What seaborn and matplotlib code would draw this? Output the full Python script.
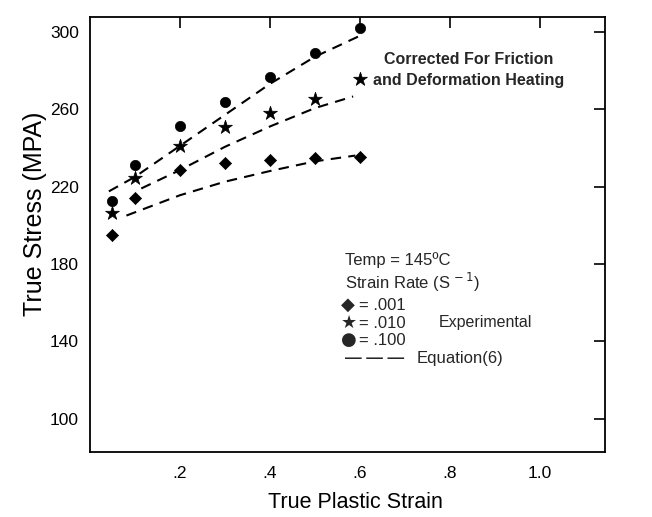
import matplotlib
matplotlib.use("Agg")
import matplotlib.pyplot as plt
import seaborn as sns
import pandas as pd

# ---- data ----
strain = [0.05, 0.1, 0.2, 0.3, 0.4, 0.5, 0.6]
stress_001 = [195.0, 214.0, 228.5, 232.0, 233.5, 234.5, 235.5]
stress_010 = [206.5, 224.5, 241.0, 250.5, 258.0, 265.0, 275.5]
stress_100 = [212.5, 231.0, 251.5, 263.5, 276.5, 289.0, 302.0]

eq_strain_001 = [0.081, 0.2, 0.3, 0.4, 0.5, 0.59]
eq_stress_001 = [205.0, 215.5, 222.5, 228.0, 233.0, 236.0]
eq_strain_010 = [0.114, 0.2, 0.3, 0.4, 0.5, 0.585]
eq_stress_010 = [219.0, 228.5, 240.5, 251.0, 260.5, 266.5]
eq_strain_100 = [0.042, 0.1, 0.2, 0.3, 0.4, 0.5, 0.597]
eq_stress_100 = [217.5, 225.0, 241.0, 257.0, 273.0, 287.0, 297.5]

x_ticks = [0.2, 0.4, 0.6, 0.8, 1.0]
x_tick_labels = [".2", ".4", ".6", ".8", "1.0"]
y_ticks = [100, 140, 180, 220, 260, 300]

sns.set_theme(style="white")
plt.rcParams["font.family"] = ["Liberation Sans", "DejaVu Sans"]

fig = plt.figure(figsize=(6.52, 5.17), dpi=100)
ax = fig.add_axes([0.138, 0.126, 0.790, 0.841])

dash = (0, (5, 3.5))
for xs, ys in [(eq_strain_001, eq_stress_001), (eq_strain_010, eq_stress_010),
               (eq_strain_100, eq_stress_100)]:
    sns.lineplot(x=xs, y=ys, ax=ax, color="black", linewidth=1.5,
                 linestyle=dash, estimator=None, sort=False)

sns.scatterplot(x=strain, y=stress_001, ax=ax, marker="D", s=38,
                color="black", edgecolor="black", linewidth=0.5, zorder=3)
sns.scatterplot(x=strain, y=stress_010, ax=ax, marker="*", s=110,
                color="black", edgecolor="black", linewidth=0.5, zorder=3)
sns.scatterplot(x=strain, y=stress_100, ax=ax, marker="o", s=55,
                color="black", edgecolor="black", linewidth=0.5, zorder=3)

ax.set_xlim(0.0, 1.145)
ax.set_ylim(83, 307.5)
ax.set_xticks(x_ticks)
ax.set_xticklabels(x_tick_labels)
ax.set_yticks(y_ticks)
ax.tick_params(direction="in", top=True, right=True, length=8, width=1.2,
               colors="black", labelsize=12.5, pad=8)
ax.tick_params(axis="x", pad=10)
for sp in ax.spines.values():
    sp.set_visible(True)
    sp.set_color("black")
    sp.set_linewidth(1.3)

ax.set_xlabel("True Plastic Strain", fontsize=15.5, labelpad=8, color="black")
ax.xaxis.label.set_x(0.515)
ax.set_ylabel("True Stress (MPA)", fontsize=18, labelpad=2, color="black")
ax.yaxis.label.set_y(0.548)

ax.text(0.841, 285.5, "Corrected For Friction", ha="center", va="center",
        fontsize=11.5, fontweight="bold")
ax.text(0.841, 274.5, "and Deformation Heating", ha="center", va="center",
        fontsize=11.5, fontweight="bold")

fs = 12
ax.text(0.566, 182, "Temp = 145ºC", ha="left", va="center", fontsize=fs)
ax.text(0.566, 170.6, "Strain Rate (S$^{\\,-1}$)", ha="left", va="center", fontsize=fs)
for yy, g in [(158.7, "◆"), (149.4, "★"), (140.5, "●")]:
    ax.text(0.558, yy, g, ha="left", va="center", fontsize=13,
            family=["DejaVu Sans"])
ax.text(0.598, 158.7, "= .001", ha="left", va="center", fontsize=fs)
ax.text(0.598, 149.4, "= .010", ha="left", va="center", fontsize=fs)
ax.text(0.598, 140.5, "= .100", ha="left", va="center", fontsize=fs)
ax.text(0.776, 150.0, "Experimental", ha="left", va="center", fontsize=11.5)
ax.text(0.566, 131.2, "— — —", ha="left", va="center", fontsize=fs,
        fontweight="bold")
ax.text(0.727, 131.2, "Equation(6)", ha="left", va="center", fontsize=fs)

fig.savefig("out.png", dpi=100)
